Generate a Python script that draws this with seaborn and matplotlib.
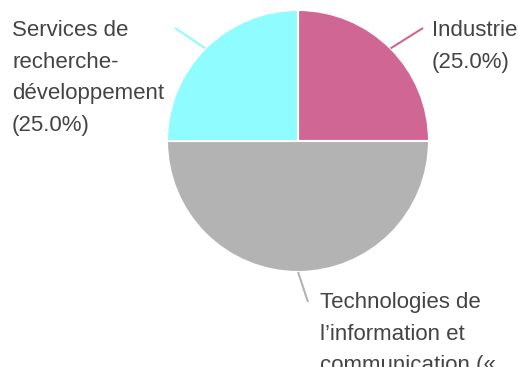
import numpy as np
import seaborn as sns
import matplotlib.pyplot as plt

labels = ["Industrie", "Technologies de l’information et communication (« TIC »)",
          "Services de recherche-développement"]
values = [25.0, 50.0, 25.0]
colors = ["#d06694", "#b3b3b3", "#8ffcff"]
label_text = ["Industrie\n(25.0%)",
              "Technologies de\nl’information et\ncommunication («\nTIC »)\n(50.0%)",
              "Services de\nrecherche-\ndéveloppement\n(25.0%)"]

sns.set_theme(style="white")
plt.rcParams['font.family'] = ['Liberation Sans', 'DejaVu Sans']

W, H = 518, 367
cx, cy, r = 298, 141, 131
fig = plt.figure(figsize=(W / 100, H / 100), dpi=100)
ax = fig.add_axes([(cx - r) / W, (H - cy - r) / H, 2 * r / W, 2 * r / H])

wedges, _ = ax.pie(values, colors=colors, startangle=90, counterclock=False,
                   radius=1, wedgeprops=dict(edgecolor="white", linewidth=1.5))
ax.set_aspect("auto")
ax.set_xlim(-1, 1)
ax.set_ylim(-1, 1)
ax.axis("off")


def px(x, y):
    # pixel position -> data coords
    return (x - cx) / r, (cy - y) / r


# text anchor (top-left) in pixels, and leader end point
text_pos = [(432, 20), (320, 292), (12, 20)]
line_end = [(423, 28), (308, 302), (175, 28)]

for w, txt, (tx, ty), (lx, ly) in zip(wedges, label_text, text_pos, line_end):
    ang = np.deg2rad((w.theta1 + w.theta2) / 2)
    x0, y0 = np.cos(ang), np.sin(ang)
    x1, y1 = px(lx, ly)
    ax.plot([x0, x1], [y0, y1], color=w.get_facecolor(), lw=1.5,
            clip_on=False, solid_capstyle="butt")
    ax.text(*px(tx, ty), txt, ha="left", va="top", fontsize=16,
            color="#444444", linespacing=1.66, clip_on=False)

fig.savefig("out.png", dpi=100)
